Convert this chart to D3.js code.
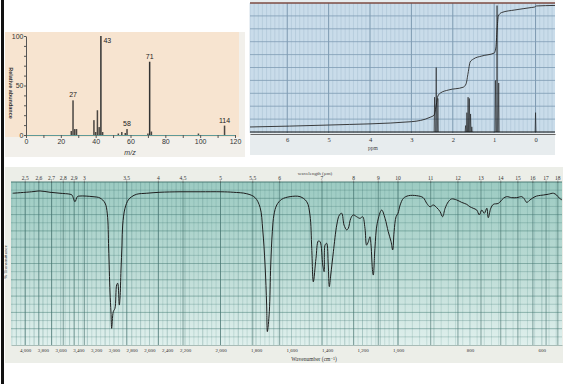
<!DOCTYPE html>
<html>
<head>
<meta charset="utf-8">
<script src="https://cdn.jsdelivr.net/npm/d3@7"></script>
<style>
  html, body { margin: 0; padding: 0; background: #fff; }
  svg { display: block; }
</style>
</head>
<body>
<svg id="chart" width="563" height="384"></svg>
<script>
// mass spectrum (m/z, relative abundance %)
var msMz  = [26, 27, 28, 29, 39, 40, 41, 42, 43, 44, 53, 55, 57, 58, 70, 71, 72, 99, 114];
var msInt = [4, 35, 6, 6, 15, 3, 25, 8, 100, 3, 1.5, 3, 2, 6, 1.5, 74, 3.5, 1.5, 9.5];
var msLabelled = [27, 43, 58, 71, 114];
var msTicksX = [0, 20, 40, 60, 80, 100, 120];
var msTicksY = [0, 50, 100];

// 1H NMR lines (ppm, height) and integral trace
var nmrPpm = [2.44, 2.40, 2.36, 1.69, 1.66, 1.63, 1.60, 1.57, 1.54, 0.97, 0.93, 0.89, 0.00];
var nmrInt = [27, 50, 26, 5, 15, 27, 26, 14, 4, 40, 98, 38, 15];
var intPpm = [6.9, 5.0, 3.0, 2.55, 2.45, 2.40, 2.36, 2.3, 2.1, 1.75, 1.68, 1.63, 1.58, 1.5, 1.3, 1.0, 0.96, 0.93, 0.9, 0.82, 0.5, 0.1, 0.02, -0.02, -0.47];
var intVal = [3.9, 5.4, 8.0, 11.4, 13.2, 20.9, 27.9, 30.2, 32.6, 34.7, 37.2, 45.7, 54.3, 56.6, 58.9, 61.2, 65.1, 79.1, 89.9, 92.6, 94.6, 96.5, 96.9, 97.7, 98.1];
var nmrTicks = [6, 5, 4, 3, 2, 1, 0];

// IR trace (wavenumber cm-1, % transmittance)
var irWn = [4141, 3927, 3833, 3721, 3608, 3495, 3473, 3439, 3413, 3383, 3236, 3158, 3101, 3075, 3060, 3045, 3034, 3026, 3008, 2989,
  2970, 2958, 2940, 2932, 2921, 2910, 2902, 2876, 2839, 2800, 2744, 2631, 2482, 2256, 2115, 1997, 1928, 1852, 1806, 1777,
  1762, 1749, 1740, 1736, 1725, 1717, 1708, 1699, 1683, 1655, 1608, 1552, 1514, 1496, 1486, 1477, 1462, 1449, 1439, 1424,
  1416, 1411, 1402, 1393, 1387, 1379, 1364, 1345, 1330, 1317, 1304, 1289, 1280, 1266, 1252, 1233, 1214, 1199, 1186, 1177,
  1167, 1158, 1152, 1143, 1139, 1130, 1117, 1092, 1073, 1055, 1039, 1030, 1022, 1011, 1000, 994, 985, 971, 948, 930,
  920, 911, 902, 892, 883, 876, 869, 860, 851, 837, 823, 809, 800, 791, 781, 774, 767, 760, 753, 749,
  742, 735, 721, 707, 698, 684, 670, 656, 650, 642, 633, 619, 610, 596, 582, 568, 559, 551, 544];
var irT = [93.1, 94.0, 94.5, 93.7, 93.1, 92.5, 92.0, 87.9, 91.0, 91.4, 91.0, 90.2, 87.1, 80.4, 59.5, 32.5, 20.2, 10.2, 20.4, 22.5,
  36.8, 37.9, 24.5, 28.8, 46.0, 61.3, 73.6, 83.9, 89.0, 91.0, 92.5, 93.1, 93.7, 94.0, 94.0, 94.0, 93.7, 92.8, 90.5, 84.4,
  70.6, 49.1, 24.5, 8.2, 20.4, 49.1, 69.5, 79.8, 85.9, 89.4, 91.0, 91.0, 87.9, 79.8, 59.3, 38.8, 53.2, 63.8, 63.4, 49.1,
  45.0, 61.3, 62.4, 49.1, 35.8, 42.9, 57.2, 73.6, 79.8, 80.8, 73.6, 70.6, 71.6, 77.7, 79.8, 78.7, 77.7, 78.7, 71.6, 61.3,
  63.4, 66.4, 61.3, 45.0, 42.9, 59.3, 74.7, 82.8, 77.7, 69.5, 63.4, 58.3, 69.5, 78.7, 80.8, 85.9, 90.0, 91.6, 91.6, 90.4,
  86.9, 84.8, 85.9, 84.2, 81.8, 78.7, 83.9, 87.9, 89.6, 89.0, 87.5, 86.3, 84.8, 83.9, 82.8, 79.8, 82.8, 80.8, 83.9, 78.1,
  83.9, 86.3, 86.9, 90.0, 91.0, 90.4, 90.4, 91.0, 90.0, 87.5, 89.0, 91.0, 91.6, 92.0, 92.5, 93.1, 92.0, 90.0, 89.0];
var irMicron = [2.5, 2.6, 2.7, 2.8, 2.9, 3, 3.5, 4, 4.5, 5, 5.5, 6, 7, 8, 9, 10, 11, 12, 13, 14, 15, 16, 17, 18];
var irWnTicks = [4000, 3800, 3600, 3400, 3200, 3000, 2800, 2600, 2400, 2200, 2000, 1800, 1600, 1400, 1200, 1000, 800, 600];

var svg = d3.select("#chart");
var serif = "'Liberation Serif', 'DejaVu Serif', serif";
var sans = "'Liberation Sans', Arial, sans-serif";

// left black edge
svg.append("rect").attr("x", 1).attr("y", 0).attr("width", 3).attr("height", 384).attr("fill", "#111");

//----------------- mass spectrum
var ms = svg.append("g");
ms.append("rect").attr("x", 5).attr("y", 32).attr("width", 240).attr("height", 125).attr("fill", "#f2f0eb");
ms.append("rect").attr("x", 5).attr("y", 32).attr("width", 234).attr("height", 105).attr("fill", "#f7e4d0");

var mx = d3.scaleLinear().domain([0, 120]).range([26, 235]);
var my = d3.scaleLinear().domain([0, 100]).range([135, 36]);

var gx = ms.append("g").attr("transform", "translate(0,135)")
  .call(d3.axisBottom(mx).tickValues(d3.range(0, 121, 10)).tickSize(3).tickSizeOuter(0).tickPadding(1.5)
    .tickFormat(d => msTicksX.indexOf(d) >= 0 ? d : ""));
gx.select(".domain").attr("stroke", "#5e9a98");
gx.selectAll(".tick line").attr("stroke", "#555");
gx.selectAll("text").attr("font-size", 7).attr("font-family", sans).attr("fill", "#333");

var gy = ms.append("g").attr("transform", "translate(26,0)")
  .call(d3.axisLeft(my).tickValues(d3.range(0, 101, 10)).tickSize(2).tickSizeOuter(0).tickPadding(0.5)
    .tickFormat(d => msTicksY.indexOf(d) >= 0 ? d : ""));
gy.select(".domain").attr("stroke", "#555");
gy.selectAll(".tick line").attr("stroke", "#555");
gy.selectAll("text").attr("font-size", 7).attr("font-family", sans).attr("fill", "#333");

ms.selectAll("rect.bar").data(msMz).join("rect").attr("class", "bar")
  .attr("x", d => mx(d) - 0.75)
  .attr("width", 1.5)
  .attr("y", (d, i) => my(msInt[i]))
  .attr("height", (d, i) => my(0) - my(msInt[i]))
  .attr("fill", d => d === 43 || d === 71 ? "#333" : "#4a4642");

ms.selectAll("text.pk").data(msLabelled).join("text").attr("class", "pk")
  .attr("x", d => d === 43 ? mx(d) + 2.5 : mx(d))
  .attr("y", d => d === 43 ? my(100) + 7 : my(msInt[msMz.indexOf(d)]) - 3)
  .attr("text-anchor", d => d === 43 ? "start" : "middle")
  .attr("font-size", 7).attr("font-family", sans).attr("fill", "#222")
  .text(d => d);

ms.append("text").attr("x", 130).attr("y", 155).attr("text-anchor", "middle")
  .attr("font-size", 7).attr("font-style", "italic").attr("font-family", sans).attr("fill", "#333").text("m/z");
ms.append("text").attr("transform", "translate(9,93) rotate(90)").attr("text-anchor", "middle")
  .attr("font-size", 5.5).attr("font-weight", "bold").attr("font-family", sans).attr("fill", "#333")
  .text("Relative abundance");

//----------------- 1H NMR
var nmr = svg.append("g");
var nx = d3.scaleLinear().domain([6.9, -0.47]).range([250, 555]);
var ny = d3.scaleLinear().domain([0, 100]).range([132, 3]);

nmr.append("rect").attr("x", 250).attr("y", 0).attr("width", 305).attr("height", 155).attr("fill", "#e7ecee");
nmr.append("rect").attr("x", 250).attr("y", 3).attr("width", 305).attr("height", 130).attr("fill", "#c9dcea");

var vgrid = d3.range(-4, 70).map(d => d / 10);
var isInt = d => Math.abs(d - Math.round(d)) < 1e-6;
nmr.selectAll("line.vg").data(vgrid).join("line").attr("class", "vg")
  .attr("x1", d => nx(d)).attr("x2", d => nx(d)).attr("y1", 3).attr("y2", 133)
  .attr("stroke", d => isInt(d) ? "#7592aa" : "#a6bfd1")
  .attr("stroke-width", d => isInt(d) ? 0.9 : 0.5);
nmr.selectAll("line.hg").data(d3.range(10, 100, 10)).join("line").attr("class", "hg")
  .attr("x1", 250).attr("x2", 555).attr("y1", d => ny(d)).attr("y2", d => ny(d))
  .attr("stroke", "#7f9cb4").attr("stroke-width", 0.8);
nmr.append("line").attr("x1", 250).attr("x2", 555).attr("y1", 3).attr("y2", 3)
  .attr("stroke", "#7d4b42").attr("stroke-width", 1.3);

var gn = nmr.append("g").attr("transform", "translate(0,134)")
  .call(d3.axisBottom(nx).tickValues(nmrTicks).tickSize(0).tickPadding(3.5).tickSizeOuter(0));
gn.select(".domain").attr("stroke", "#666");
gn.selectAll("text").attr("font-size", 6.5).attr("font-family", serif).attr("fill", "#333");
nmr.append("text").attr("x", 373).attr("y", 150).attr("text-anchor", "middle")
  .attr("font-size", 5.5).attr("font-family", serif).attr("fill", "#444").text("ppm");

// integral
nmr.append("path")
  .attr("d", d3.line().x(d => nx(d)).y((d, i) => ny(intVal[i])).curve(d3.curveMonotoneX)(intPpm))
  .attr("fill", "none").attr("stroke", "#2a2a2a").attr("stroke-width", 0.9);

// spectrum baseline + lines
nmr.append("line").attr("x1", nx(6.9)).attr("x2", nx(-0.47)).attr("y1", ny(0)).attr("y2", ny(0))
  .attr("stroke", "#111").attr("stroke-width", 1);
nmr.selectAll("path.ln").data(nmrPpm).join("path").attr("class", "ln")
  .attr("d", (d, i) => "M" + (nx(d) - 0.5) + "," + ny(0) + "L" + nx(d) + "," + ny(nmrInt[i]) + "L" + (nx(d) + 0.5) + "," + ny(0))
  .attr("fill", "none").attr("stroke", "#1a1a1a").attr("stroke-width", 0.6);

//----------------- IR
var ir = svg.append("g");
var ix = d3.scaleLinear().domain([4160, 2200, 1000, 544]).range([11, 185, 398, 562]);
var iy = d3.scaleLinear().domain([0, 100]).range([345, 182]);

var defs = svg.append("defs");
var grad = defs.append("linearGradient").attr("id", "irGrad").attr("x1", 0).attr("x2", 0).attr("y1", 0).attr("y2", 1);
grad.append("stop").attr("offset", "0%").attr("stop-color", "#9ccbc2");
grad.append("stop").attr("offset", "55%").attr("stop-color", "#bddcd6");
grad.append("stop").attr("offset", "100%").attr("stop-color", "#e0f0ed");

ir.append("rect").attr("x", 5).attr("y", 167).attr("width", 558).attr("height", 196).attr("fill", "#eceee8");
ir.append("rect").attr("x", 11).attr("y", 182).attr("width", 551).attr("height", 163).attr("fill", "url(#irGrad)");

var irGrid = d3.range(4150, 2200, -50).concat(d3.range(2200, 1000, -25)).concat(d3.range(1000, 544, -20));
ir.selectAll("line.vg").data(irGrid).join("line").attr("class", "vg")
  .attr("x1", d => ix(d)).attr("x2", d => ix(d)).attr("y1", 182).attr("y2", 345)
  .attr("stroke", "#4f8580").attr("stroke-opacity", d => d % 100 === 0 ? 0.5 : 0.28).attr("stroke-width", 0.7);
ir.selectAll("line.mg").data(irMicron).join("line").attr("class", "mg")
  .attr("x1", d => ix(10000 / d)).attr("x2", d => ix(10000 / d)).attr("y1", 182).attr("y2", 345)
  .attr("stroke", "#34615d").attr("stroke-opacity", 0.6).attr("stroke-width", 0.9);
ir.selectAll("line.hg").data(d3.range(5, 100, 5)).join("line").attr("class", "hg")
  .attr("x1", 11).attr("x2", 562).attr("y1", d => iy(d)).attr("y2", d => iy(d))
  .attr("stroke", "#3f7570").attr("stroke-opacity", d => d % 10 === 0 ? 0.6 : 0.35).attr("stroke-width", 0.8);
ir.append("line").attr("x1", 11).attr("x2", 562).attr("y1", 182).attr("y2", 182)
  .attr("stroke", "#4a7a75").attr("stroke-width", 1);

// wavelength labels on top
ir.selectAll("text.um").data(irMicron).join("text").attr("class", "um")
  .attr("x", d => ix(10000 / d)).attr("y", 179.5).attr("text-anchor", "middle")
  .attr("font-size", 5.5).attr("font-family", serif).attr("fill", "#333").text(d => d);
ir.selectAll("line.umt").data(irMicron).join("line").attr("class", "umt")
  .attr("x1", d => ix(10000 / d)).attr("x2", d => ix(10000 / d)).attr("y1", 180.5).attr("y2", 183)
  .attr("stroke", "#555").attr("stroke-width", 0.6);
ir.append("text").attr("x", 315).attr("y", 174.5).attr("text-anchor", "middle")
  .attr("font-size", 5).attr("font-family", serif).attr("fill", "#444").text("wavelength (µm)");

// wavenumber labels at bottom
var gi = ir.append("g").attr("transform", "translate(0,345)")
  .call(d3.axisBottom(ix).tickValues(irWnTicks).tickSize(0).tickPadding(3).tickSizeOuter(0));
gi.select(".domain").attr("stroke", "#7a9a96").attr("stroke-width", 0.6);
gi.selectAll("text").attr("font-size", 5).attr("font-family", serif).attr("fill", "#333");
ir.append("text").attr("x", 314).attr("y", 361).attr("text-anchor", "middle")
  .attr("font-size", 5.5).attr("font-family", serif).attr("fill", "#333").text("Wavenumber (cm⁻¹)");
ir.append("text").attr("transform", "translate(7,262) rotate(-90)").attr("text-anchor", "middle")
  .attr("font-size", 5).attr("font-family", serif).attr("fill", "#333").text("% Transmittance");

// IR trace
ir.append("path")
  .attr("d", d3.line().x(d => ix(d)).y((d, i) => iy(irT[i])).curve(d3.curveCatmullRom.alpha(0.5))(irWn))
  .attr("fill", "none").attr("stroke", "#1e1e1e").attr("stroke-width", 1);
</script>
</body>
</html>
